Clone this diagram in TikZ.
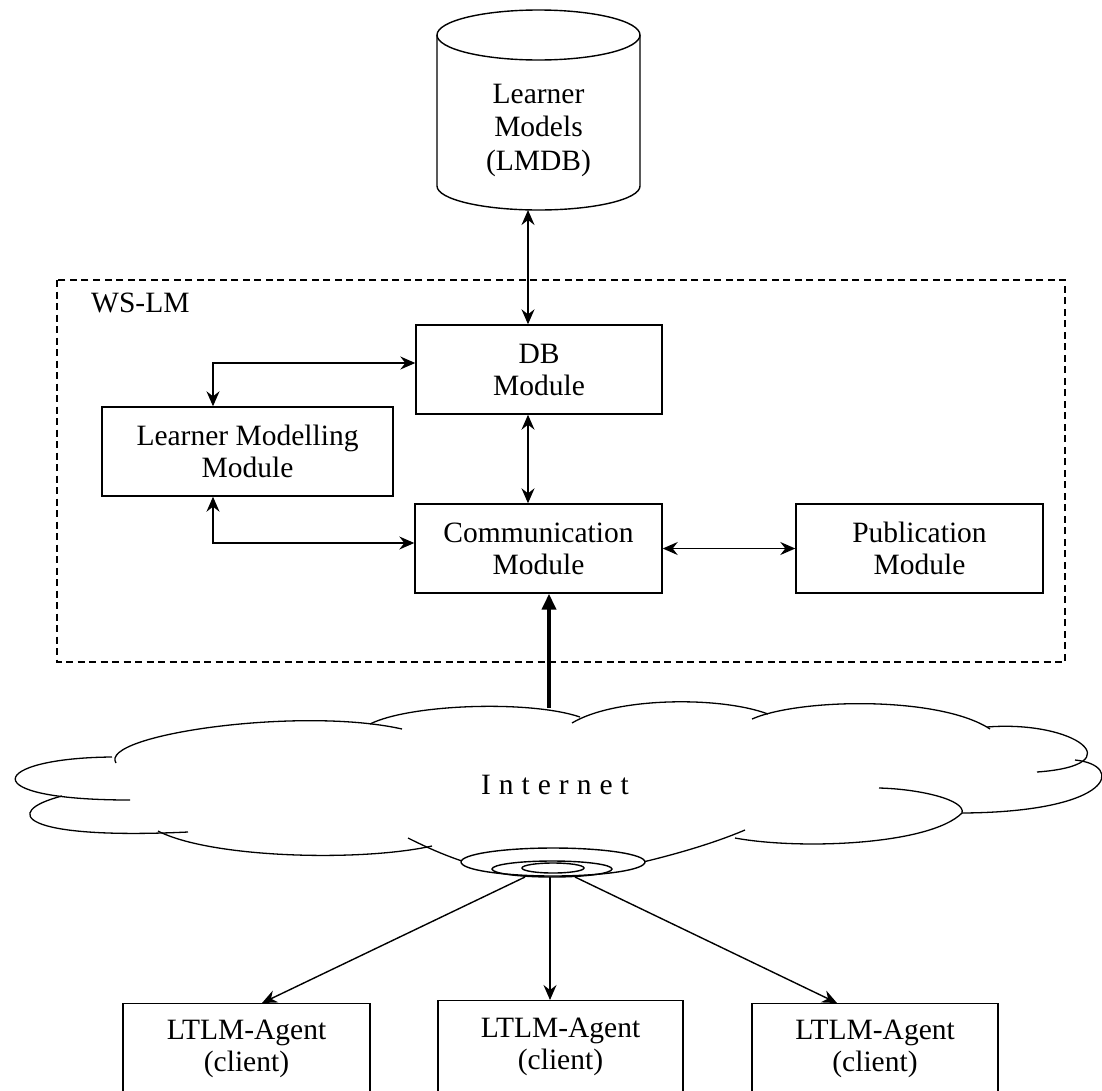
\documentclass[tikz,border=0pt]{standalone}
\usepackage{fontspec}
\setmainfont{Liberation Serif}
\usetikzlibrary{arrows.meta}
\begin{document}
\begin{tikzpicture}[x=1pt,y=-1pt,
  font=\fontsize{29.5}{32}\selectfont,
  ln/.style={line width=1.4pt},
  box/.style={draw,line width=1.4pt,align=center,inner sep=0pt},
  txt/.style={align=center,inner sep=0pt},
  dbl/.style={line width=1.4pt,{Stealth[length=15pt,width=13pt,inset=5pt]}-{Stealth[length=15pt,width=13pt,inset=5pt]}},
  arr/.style={line width=1.4pt,-{Stealth[length=15pt,width=13pt,inset=5pt]}},
  bigarr/.style={line width=3.8pt,-{Triangle[length=16pt,width=14pt]}},
  cloudline/.style={line width=1.3pt},
  dashbox/.style={line width=1.3pt,dash pattern=on 7pt off 4.5pt},
]
\useasboundingbox (0,0) rectangle (1102,1090);
\clip (0,0) rectangle (1102,1090);
\fill[white] (0,0) rectangle (1102,1090);

% ---- database cylinder
\draw[ln] (437,35) -- (437,186) arc[start angle=180, end angle=0, x radius=101.5, y radius=24] -- (640,35);
\draw[ln] (538.5,35) ellipse[x radius=101.5, y radius=25];
\node[txt, font=\fontsize{29.5}{33.5}\selectfont] (lmdb) at (538.5,130) {Learner\\Models\\(LMDB)};
\coordinate (cylbot) at (528,210);
\coordinate (axis) at (528,0);
\coordinate (lmx) at (213,0);

% ---- WS-LM frame
\draw[dashbox] (57,280) rectangle (1065,662);
\node[anchor=west,inner sep=0pt] (wslm) at (91,303) {WS-LM};

% ---- modules
\node[box, minimum width=246pt, minimum height=89pt] (db) at (539,369.5) {DB\\Module};
\node[box, minimum width=291pt, minimum height=89pt] (lm) at (247.5,451.5) {Learner Modelling\\Module};
\node[box, minimum width=247pt, minimum height=89pt] (comm) at (538.5,548.5) {Communication\\Module};
\node[box, minimum width=247pt, minimum height=89pt] (pub) at (919.5,548.5) {Publication\\Module};

\draw[dbl] (cylbot) -- (cylbot |- db.north);
\draw[dbl] (db.south -| axis) -- (comm.north -| axis);
\draw[dbl] (lm.north -| lmx) |- ([yshift=6.5pt]db.west);
\draw[dbl] (lm.south -| lmx) |- ([yshift=5.5pt]comm.west);
\draw[dbl] (comm.east) -- (pub.west);

% ---- cloud
\draw[cloudline] (112,757) .. controls (-10,758) and (-30,800) .. (130,800);
\draw[cloudline] (116,763) .. controls (98,735) and (300,706) .. (402,729);
\draw[cloudline] (370,724) .. controls (410,704) and (530,700) .. (580,717);
\draw[cloudline] (572,723) .. controls (615,697) and (720,696) .. (768,714);
\draw[cloudline] (752,719) .. controls (800,698) and (940,696) .. (990,729);
\draw[cloudline] (987,727) .. controls (1075,720) and (1135,765) .. (1037,772);
\draw[cloudline] (1075,760) .. controls (1125,765) and (1115,812) .. (962,813);
\draw[cloudline] (735,838) .. controls (800,850) and (930,845) .. (962,813) .. controls (966,800) and (920,789) .. (879,788);
\draw[cloudline] (630,865) .. controls (670,856) and (712,844) .. (745,830);
\draw[cloudline] (408,838) .. controls (428,848) and (450,858) .. (478,866);
\draw[cloudline] (158,831) .. controls (210,858) and (360,862) .. (432,846);
\draw[cloudline] (62,796) .. controls (0,812) and (20,840) .. (188,832);
\node[txt] (inet) at (555,785) {I\kern8pt n\kern8pt t\kern8pt e\kern8pt r\kern8pt n\kern8pt e\kern8pt t};

% ---- hub
\draw[ln,fill=white] (553,862) ellipse[x radius=92, y radius=14];
\draw[ln] (552,869) ellipse[x radius=60, y radius=8];
\draw[ln] (553,868) ellipse[x radius=31, y radius=5];
\coordinate (hubL) at (525,877);
\coordinate (hubM) at (550,877);
\coordinate (hubR) at (575,877);
\coordinate (cloudtop) at (549,708);

\draw[bigarr] (cloudtop) -- (cloudtop |- comm.south);

% ---- agents
\node[box, anchor=north, minimum width=247pt, minimum height=120pt] (ag1) at (246.5,1003) {};
\node[box, anchor=north, minimum width=245pt, minimum height=120pt] (ag2) at (560.5,1000) {};
\node[box, anchor=north, minimum width=246pt, minimum height=120pt] (ag3) at (875,1003) {};
\node[txt] (ag1t) at (246.5,1049) {LTLM-Agent\\(client)};
\node[txt] (ag2t) at (560.5,1047) {LTLM-Agent\\(client)};
\node[txt] (ag3t) at (875,1049) {LTLM-Agent\\(client)};

\draw[arr] (hubL) -- ([xshift=15.5pt]ag1.north);
\draw[arr] (hubM) -- (hubM |- ag2.north);
\draw[arr] (hubR) -- ([xshift=-38pt]ag3.north);
\end{tikzpicture}
\end{document}
